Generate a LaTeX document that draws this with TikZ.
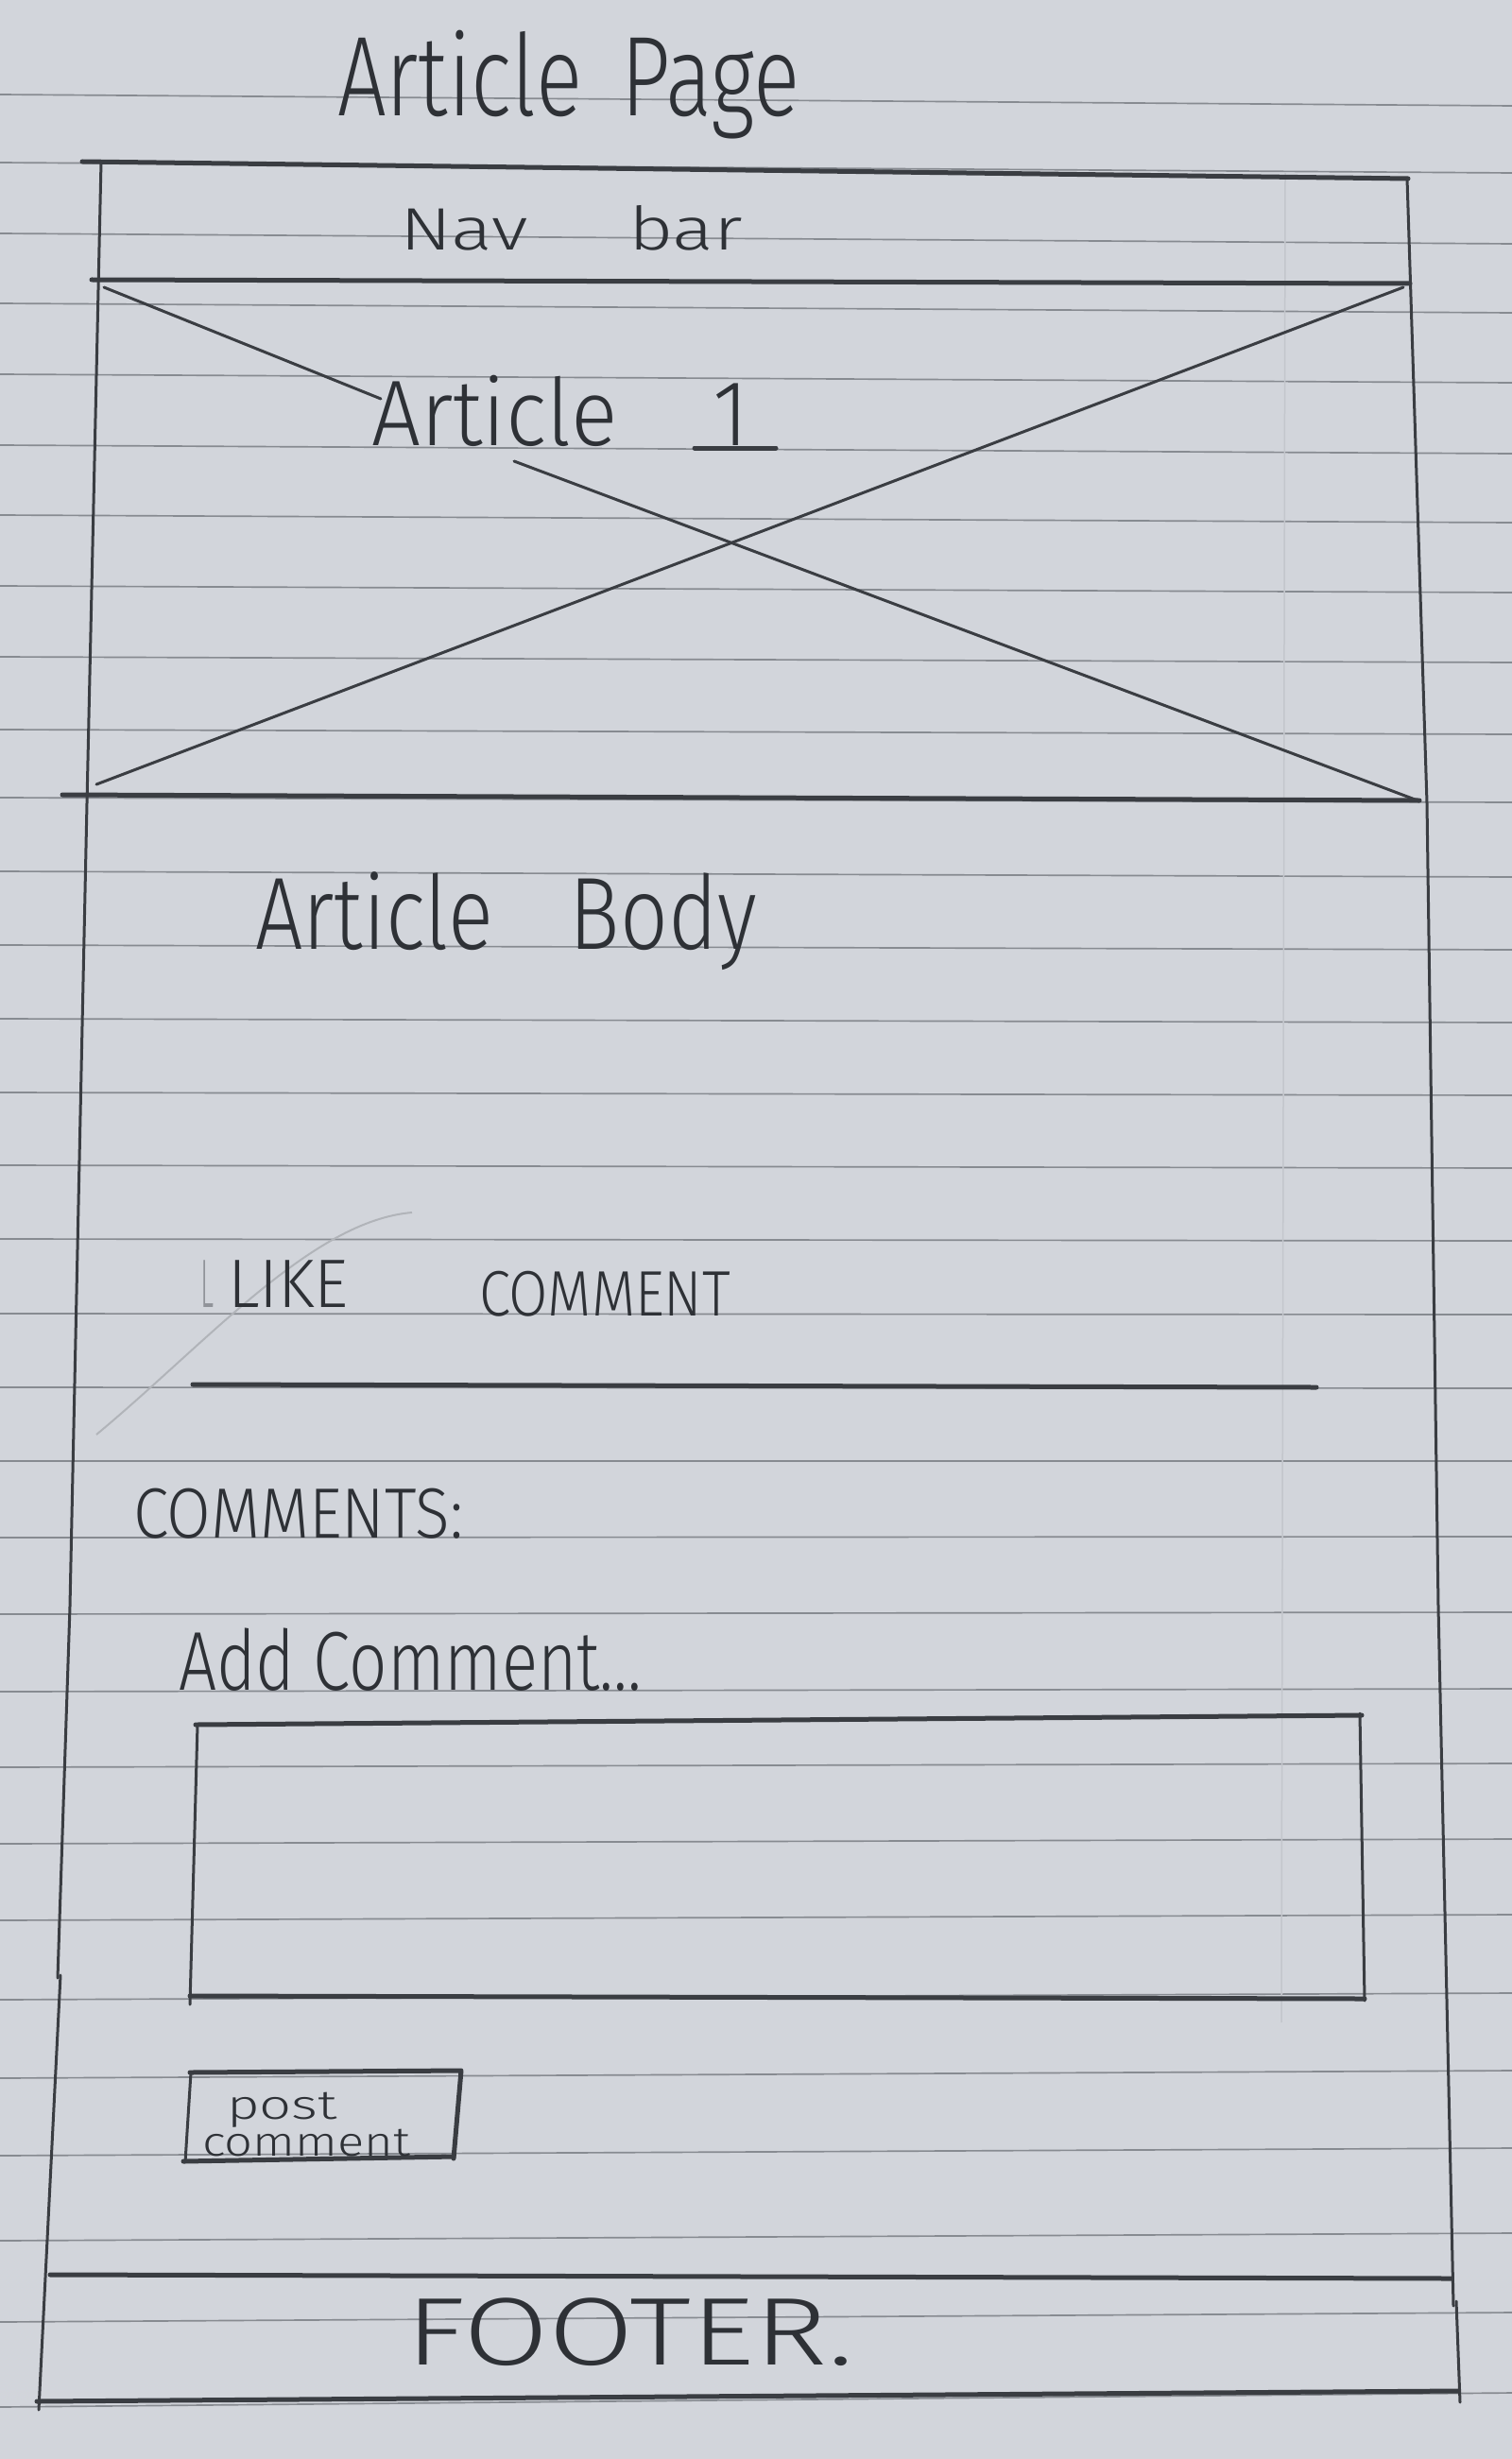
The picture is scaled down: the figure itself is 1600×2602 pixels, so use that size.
\documentclass[tikz,border=0pt]{standalone}
\usepackage{fontspec}
\usepackage{graphicx}
\newfontfamily\hand{Fira Sans Light}

\definecolor{paper}{HTML}{D2D5DB}
\definecolor{rule}{HTML}{878B91}
\definecolor{pencil}{HTML}{3A3D42}
\definecolor{ink}{HTML}{2E3136}
\definecolor{crease}{HTML}{C3C6CC}

% set a word to a given width (in drawing units) by stretching it sideways
\newlength\hwd
\newcommand\hw[2]{\settowidth\hwd{#2}\pgfmathsetmacro\hwfac{#1*0.3/\hwd}\scalebox{\hwfac}[1]{#2}}

\tikzset{
  ruled/.style={draw=rule, line width=0.5pt},
  thinpencil/.style={draw=pencil, line width=0.9pt, line cap=round, line join=round},
  thickpencil/.style={draw=pencil, line width=1.5pt, line cap=round, line join=round},
  scrawl/.style={inner sep=0pt, outer sep=0pt, text=ink, anchor=base west,
                 font=\hand\fontsize{#1}{#1}\selectfont},
}

\begin{document}
\begin{tikzpicture}[x=0.3pt,y=-0.3pt]
  % sheet of ruled paper
  \fill[paper] (0,0) rectangle (1600,2602);
  \useasboundingbox (0,0) rectangle (1600,2602);
  \foreach \l/\r in {100/112, 172/183, 247/258, 321/331, 396/405, 471/480,
                     545/553, 620/627, 695/701, 772/777, 844/849, 922/928,
                     1000/1005, 1078/1082, 1156/1159, 1233/1236, 1311/1313,
                     1390/1391, 1468/1469, 1546/1546, 1627/1626, 1708/1706,
                     1790/1787, 1870/1866, 1951/1946, 2032/2026, 2116/2109,
                     2199/2191, 2281/2273, 2371/2363, 2457/2447, 2547/2532}
    \draw[ruled] (0,\l) -- (1600,\r);
  % fold crease
  \draw[crease, line width=0.45pt] (1360,183) -- (1356,2140);

  % page title
  \node[scrawl=36pt] (title) at (357,123) {\hw{490}{Article\hspace{0.45em}Page}};

  % outer frame
  \draw[thickpencil] (87,171) -- (1490,189);
  \draw[thinpencil] (107,171) -- (92,850) -- (74,1700) -- (61,2093);
  \draw[thinpencil] (64,2090) -- (41,2550);
  \draw[thinpencil] (1489,189) -- (1510,850) -- (1522,1700) -- (1538,2440);
  \draw[thinpencil] (1541,2435) -- (1545,2542);

  % navigation bar
  \node[scrawl=19pt] (nav) at (423,265) {\hw{363}{Nav\hspace{1.3em}bar}};
  \draw[thickpencil] (97,296) -- (1492,300);

  % hero image placeholder
  \draw[thinpencil] (110,304) -- (403,422);
  \draw[thinpencil] (544,488) -- (1500,847);
  \draw[thinpencil] (1485,304) -- (102,830);
  \draw[thickpencil] (66,841) -- (1502,847);
  \node[scrawl=29.6pt] (art1) at (393,472) {\hw{400}{Article\hspace{1.1em}1}};
  \draw[thickpencil] (735,474) -- (821,474);

  % article body
  \node[scrawl=32.6pt] (body) at (270,1004) {\hw{531}{Article\hspace{0.9em}Body}};

  % actions
  \draw[draw=pencil!22!paper, line width=0.6pt]
    (436,1283) .. controls (330,1292) and (220,1420) .. (102,1518);
  \node[scrawl=21.8pt, text=ink!40!paper] (likeL) at (212,1383) {\hw{14}{L}};
  \node[scrawl=21.8pt] (like) at (241,1383) {\hw{128}{LIKE}};
  \node[scrawl=20.4pt] (comment) at (507,1392) {\hw{266}{COMMENT}};
  \draw[thickpencil] (204,1465) -- (1393,1468);

  % comments section
  \node[scrawl=22.6pt] (comments) at (141,1627) {\hw{349}{COMMENTS:}};
  \node[scrawl=26.5pt] (addc) at (189,1788) {\hw{490}{Add Comment...}};
  \draw[thickpencil] (207,1825) -- (1441,1815);
  \draw[thinpencil] (1439,1813) -- (1444,2117);
  \draw[thickpencil] (201,2112) -- (1444,2115);
  \draw[thinpencil] (209,1825) -- (201,2121);

  % post button
  \draw[thickpencil] (201,2193) -- (488,2191) -- (480,2284);
  \draw[thickpencil] (194,2287) -- (480,2282);
  \draw[thinpencil] (202,2193) -- (196,2288);
  \node[scrawl=13pt] (btn) at (214,2281)
    {\begin{tabular}[b]{@{}l@{}}\hspace*{7.8pt}\hw{117}{post}\\[-1.3pt]\hw{220}{comment}\end{tabular}};

  % footer
  \draw[thickpencil] (53,2407) -- (1536,2411);
  \node[scrawl=30.5pt] (footer) at (429,2502) {\hw{474}{FOOTER.}};
  \draw[thickpencil] (39,2541) -- (1543,2530);
\end{tikzpicture}
\end{document}
